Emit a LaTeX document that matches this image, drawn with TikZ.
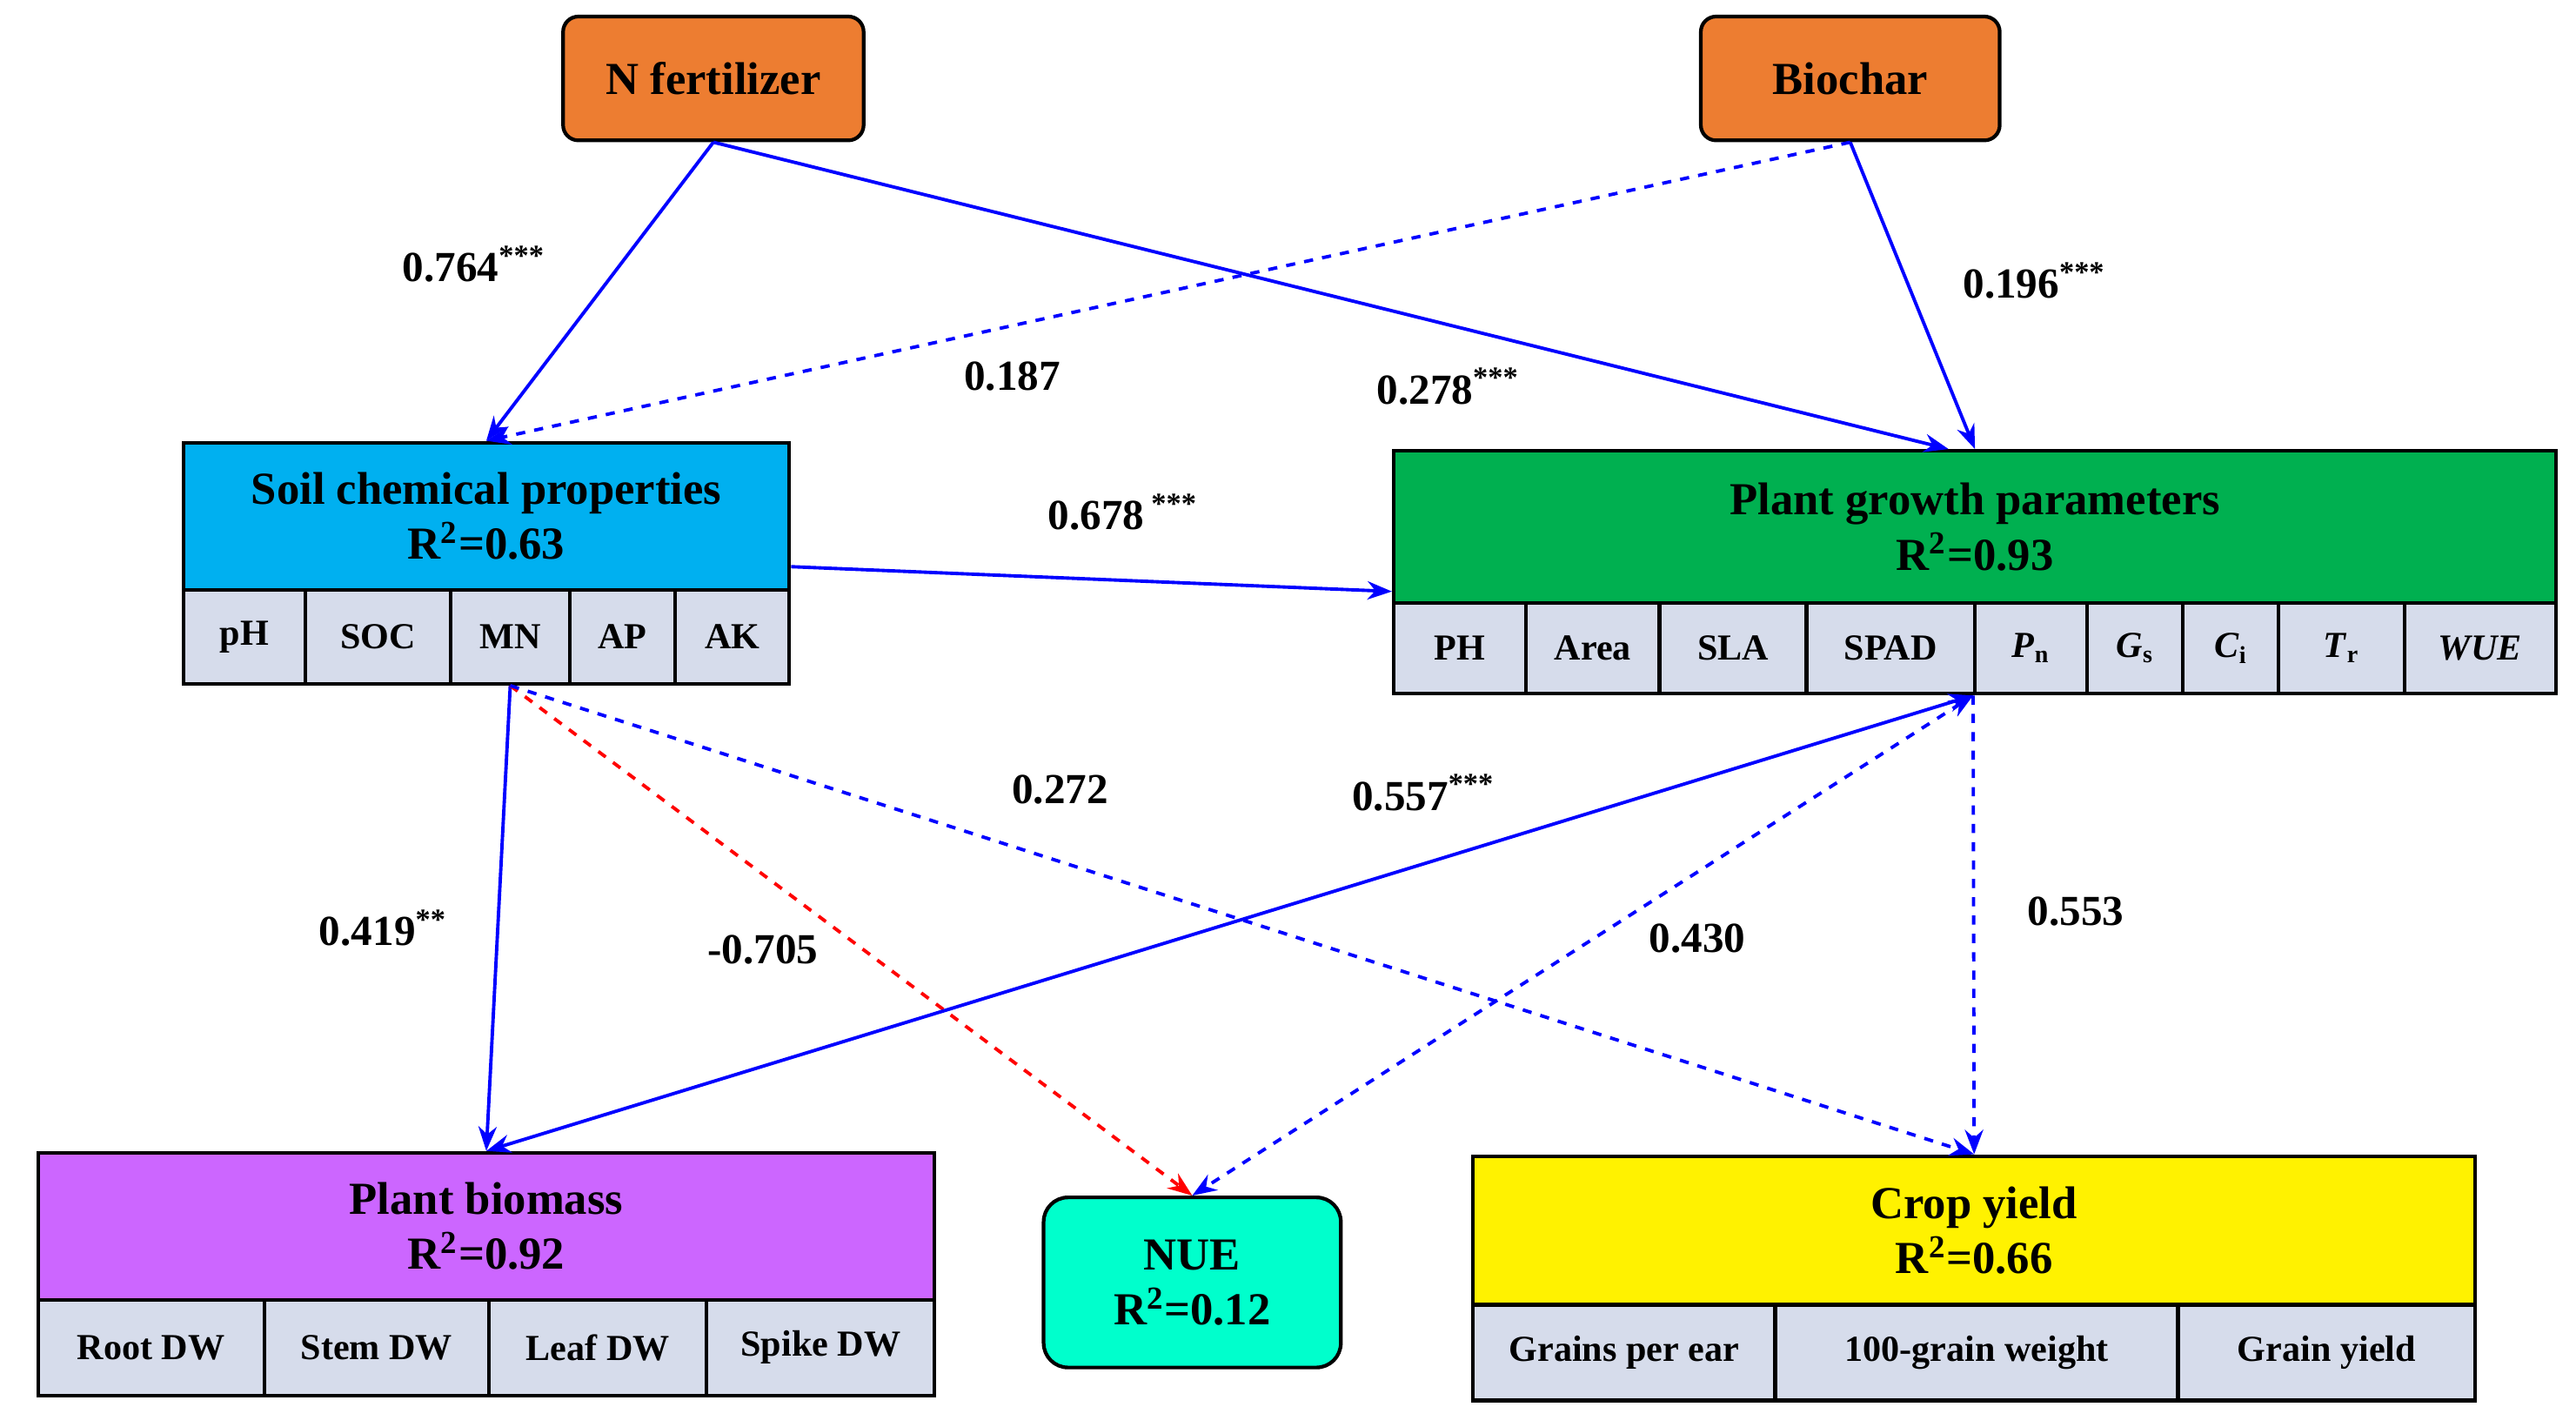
\documentclass[tikz,border=0pt]{standalone}
\usepackage{fontspec}
\setmainfont{Liberation Serif}
\usetikzlibrary{arrows.meta}
\definecolor{orng}{RGB}{237,125,49}
\definecolor{soilblue}{RGB}{0,176,240}
\definecolor{grn}{RGB}{0,176,80}
\definecolor{purp}{RGB}{204,102,255}
\definecolor{aqua}{RGB}{0,255,204}
\definecolor{cellc}{RGB}{214,220,235}
\def\pu{0.019cm}

\begin{document}
\begin{tikzpicture}[x=0.019cm,y=-0.019cm,
  box/.style={draw=black,line width=1.2pt,inner sep=0pt,align=center,font=\fontsize{15}{18}\selectfont\bfseries},
  cell/.style={draw=black,line width=1.2pt,fill=cellc,inner sep=0pt,font=\fontsize{12}{14}\selectfont\bfseries},
  lnk/.style={blue,line width=1.1pt,-{Stealth[length=8pt,width=6pt]}},
  lab/.style={font=\fontsize{14}{16}\selectfont\bfseries}]

\useasboundingbox (0,0) rectangle (1560,864);

% drivers
\node[box,fill=orng,rounded corners=5pt,minimum width=182*\pu,minimum height=75*\pu] (nfert) at (432,47.5) {N fertilizer};
\node[box,fill=orng,rounded corners=5pt,minimum width=181*\pu,minimum height=75*\pu] (biochar) at (1120.5,47.5) {Biochar};

% soil chemical properties
\node[box,fill=soilblue,minimum width=367*\pu,minimum height=89*\pu] (soil) at (294.5,312.5) {Soil chemical properties\\R\textsuperscript{2}=0.63};
\foreach \a/\b/\t/\n in {111/185/pH/ph,185/273/SOC/soc,273/345/MN/mn,345/409/AP/ap,409/478/AK/ak}
  \node[cell,minimum width={(\b-\a)*\pu},minimum height=57*\pu] (\n) at ({(\a+\b)/2},385.5) {\t};

% plant growth parameters
\node[box,fill=grn,minimum width=704*\pu,minimum height=92*\pu] (growth) at (1196,319) {Plant growth parameters\\R\textsuperscript{2}=0.93};
\foreach \a/\b/\t/\n in {844/924/PH/ph2,924/1005/Area/area,1005/1094/SLA/sla,1094/1196/SPAD/spad,1196/1264/\textit{P}\textsubscript{n}/pn,1264/1322/\textit{G}\textsubscript{s}/gs,1322/1380/\textit{C}\textsubscript{i}/ci,1380/1456/\textit{T}\textsubscript{r}/tr,1456/1548/\textit{WUE}/wue}
  \node[cell,minimum width={(\b-\a)*\pu},minimum height=55*\pu] (\n) at ({(\a+\b)/2},392.5) {\t};

% plant biomass
\node[box,fill=purp,minimum width=543*\pu,minimum height=89*\pu] (biomass) at (294.5,742.5) {Plant biomass\\R\textsuperscript{2}=0.92};
\foreach \a/\b/\t/\n in {23/160/Root DW/rdw,160/296/Stem DW/sdw,296/428/Leaf DW/ldw,428/566/Spike DW/kdw}
  \node[cell,minimum width={(\b-\a)*\pu},minimum height=58*\pu] (\n) at ({(\a+\b)/2},816) {\t};

% NUE
\node[box,fill=aqua,rounded corners=8pt,minimum width=180*\pu,minimum height=103*\pu] (nue) at (722,776.5) {NUE\\R\textsuperscript{2}=0.12};

% crop yield
\node[box,fill=yellow,minimum width=607*\pu,minimum height=90*\pu] (yield) at (1195.5,745) {Crop yield\\R\textsuperscript{2}=0.66};
\foreach \a/\b/\t/\n in {892/1075/Grains per ear/gpe,1075/1319/100-grain weight/hgw,1319/1499/Grain yield/gy}
  \node[cell,minimum width={(\b-\a)*\pu},minimum height=58*\pu] (\n) at ({(\a+\b)/2},819) {\t};

\coordinate (pnb) at (pn.south west);
\coordinate (soilr) at (soil.south east);

% paths
\draw[lnk] (nfert.south) -- (soil.north);
\draw[lnk] (nfert.south) -- ([xshift=-16*\pu]growth.north);
\draw[lnk,dashed] (biochar.south) -- (soil.north);
\draw[lnk] (biochar.south) -- (growth.north);
\draw[lnk] ([yshift=15*\pu]soilr) -- ([yshift=8*\pu]growth.south west);
\draw[lnk] (mn.south) -- (biomass.north);
\draw[lnk,dashed,red] (mn.south) -- (nue.north);
\draw[lnk,dashed] (mn.south) -- (yield.north);
\draw[lnk,{Stealth[length=8pt,width=6pt]}-{Stealth[length=8pt,width=6pt]}] (pnb) -- (biomass.north);
\draw[lnk,dashed,{Stealth[length=8pt,width=6pt]}-{Stealth[length=8pt,width=6pt]}] (pnb) -- (nue.north);
\draw[lnk,dashed] (pnb) -- (yield.north);

% coefficients
\node[lab] (l1) at (287,160) {0.764\textsuperscript{***}};
\node[lab] (l2) at (877,234) {0.278\textsuperscript{***}};
\node[lab] (l3) at (613,228) {0.187};
\node[lab] (l4) at (1232,170) {0.196\textsuperscript{***}};
\node[lab] (l5) at (680,310) {0.678\,\textsuperscript{***}};
\node[lab] (l6) at (232,562) {0.419\textsuperscript{**}};
\node[lab] (l7) at (462,575) {-0.705};
\node[lab] (l8) at (642,478) {0.272};
\node[lab] (l9) at (862,480) {0.557\textsuperscript{***}};
\node[lab] (l10) at (1028,568) {0.430};
\node[lab] (l11) at (1257,552) {0.553};

\end{tikzpicture}
\end{document}
